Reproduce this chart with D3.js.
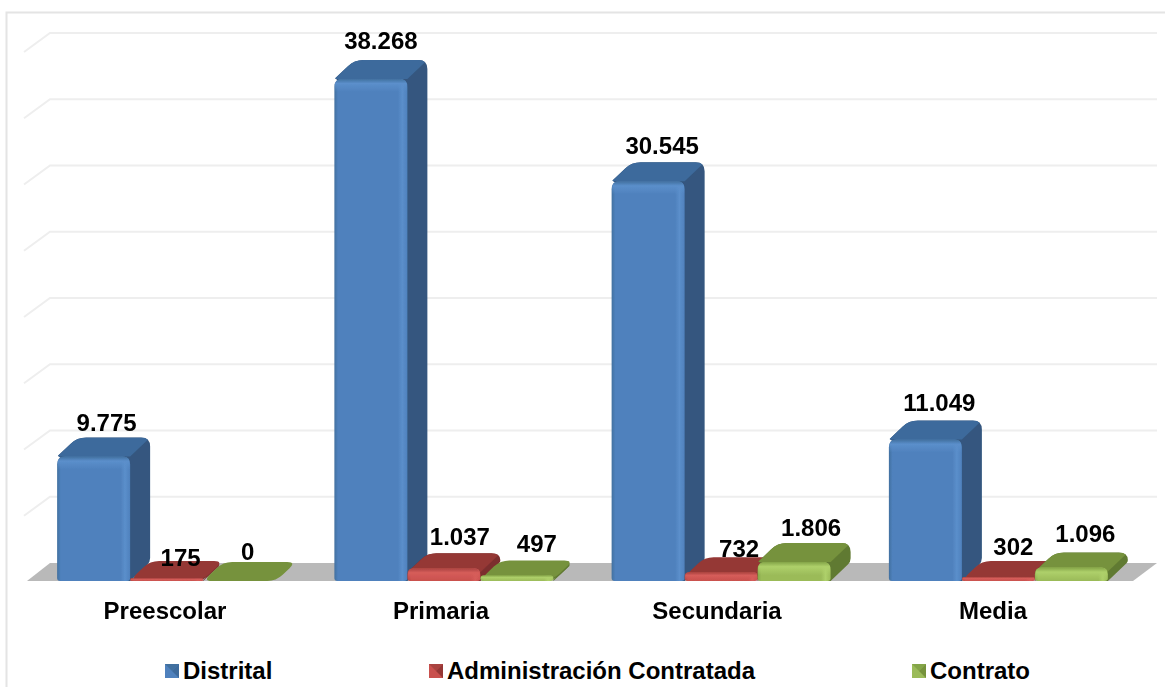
<!DOCTYPE html>
<html><head><meta charset="utf-8">
<script src="https://cdn.jsdelivr.net/npm/d3@7/dist/d3.min.js"></script>
<style>html,body{margin:0;padding:0;background:#fff;overflow:hidden}svg{display:block}text{font-family:"Liberation Sans",Arial,sans-serif;font-weight:bold;fill:#000}</style>
</head><body><svg id="c" width="1165" height="687"></svg>
<script>
const categories = ["Preescolar","Primaria","Secundaria","Media"];
const seriesNames = ["Distrital","Administración Contratada","Contrato"];
const distrital = [9775,38268,30545,11049];
const administracion = [175,1037,732,302];
const contrato = [0,497,1806,1096];
const gridTicks = [5000,10000,15000,20000,25000,30000,35000,40000];
const seriesValues = [distrital,administracion,contrato];
const fmt = v => d3.format(",")(v).replace(/,/g,".");

const palette = [
 {front:"#4f81bd",light:"#5b8fcb",dark:"#41709f",top:"#3d6a9c",side:"#34577f"},
 {front:"#c9504d",light:"#d65d5a",dark:"#a94340",top:"#953735",side:"#7c2f2d"},
 {front:"#9bbb59",light:"#aed06a",dark:"#84a548",top:"#76923c",side:"#617a32"}
];
const svg = d3.select("#c");
const frontY=581, floorBack=563, leftF=27, rightF=1133, gridEnd=1157;
const floorDx=23, barDx=20, barDy=-19, bevel=5;
const xCat = d3.scaleBand().domain(categories).range([28,1137]);
const xSer = d3.scaleBand().domain([0,1,2]).range([0,219]);
const xLabel = d3.scalePoint().domain(categories).range([165,993]);
const grid = d3.scaleLinear().domain([0,40000]).range([floorBack,33]);
const barH = v => grid(0)-grid(v);

const defs = svg.append("defs");
const blur = defs.append("filter").attr("id","soft").attr("x","-5%").attr("y","-5%").attr("width","110%").attr("height","110%");
blur.append("feGaussianBlur").attr("stdDeviation",0.5);
palette.forEach((p,i)=>{
  const g=defs.append("linearGradient").attr("id","h"+i);
  [[0,p.dark],[0.05,p.front],[0.87,p.front],[0.93,p.light],[1,p.front]].forEach(s=>g.append("stop").attr("offset",s[0]).attr("stop-color",s[1]));
  const v=defs.append("linearGradient").attr("id","v"+i).attr("x1",0).attr("x2",0).attr("y1",0).attr("y2",1);
  [[0,p.dark,1],[0.35,p.light,1],[1,p.light,0]].forEach(s=>v.append("stop").attr("offset",s[0]).attr("stop-color",s[1]).attr("stop-opacity",s[2]));
});

svg.append("path").attr("d",`M6.5,687V12.5H1165`).attr("fill","none").attr("stroke","#e4e4e4").attr("stroke-width",2);

svg.append("g").attr("fill","none").attr("stroke","#eeeeee").attr("stroke-width",2)
  .selectAll("path").data(gridTicks).join("path")
  .attr("d",t=>`M${leftF-3},${grid(t)+19}L${leftF+floorDx},${grid(t)}H${gridEnd}`);

svg.append("path").attr("fill","#b9b9b9")
  .attr("d",`M${leftF},${frontY}L${leftF+floorDx},${floorBack}H${rightF+floorDx+1}L${rightF},${frontY}Z`);

function roundedPoly(pts,r){
  let d="";
  pts.forEach((p,i)=>{
    const a=pts[(i+pts.length-1)%pts.length], b=pts[(i+1)%pts.length];
    const to=(q,s)=>{const dx=q[0]-p[0],dy=q[1]-p[1],l=Math.hypot(dx,dy)||1,m=Math.min(s,l/2);return [p[0]+dx/l*m,p[1]+dy/l*m];};
    const s=to(a,r), e=to(b,r);
    d+=(i?"L":"M")+s[0]+","+s[1]+"Q"+p[0]+","+p[1]+" "+e[0]+","+e[1];
  });
  return d+"Z";
}
function frontPath(x,y,w,h,rt,rb){
  rt=Math.min(rt,h/2); rb=Math.min(rb,h/2);
  return `M${x},${y+rt}Q${x},${y} ${x+rt},${y}H${x+w-rt}Q${x+w},${y} ${x+w},${y+rt}V${y+h-rb}Q${x+w},${y+h} ${x+w-rb},${y+h}H${x+rb}Q${x},${y+h} ${x},${y+h-rb}Z`;
}

const marks = svg.append("g").attr("filter","url(#soft)");
let clipId=0;
categories.forEach((c,ci)=>{
  seriesValues.forEach((vals,si)=>{
    const v=vals[ci], p=palette[si];
    const x0=xCat(c)+xSer(si)+(xCat.bandwidth()-219)/2, w=xSer.bandwidth();
    const h=Math.max(v===0?0:1,barH(v)-bevel);
    const yT=frontY-h, g=marks.append("g");
    const topPts=[[x0,yT],[x0+barDx,yT+barDy],[x0+w+barDx,yT+barDy],[x0+w,yT]];
    const r=9;
    if(h>=8){
      const bx=x0+barDx, by=yT+barDy, cx=x0+w+barDx, ex=x0+w;
      const a=Math.min(r,h*0.8), b=Math.min(4,h*0.2), len=Math.hypot(barDx,barDy);
      const ux=barDx/len, uy=barDy/len;
      const sil=`M${x0+ux},${yT+uy}L${bx-ux*r},${by-uy*r}Q${bx},${by} ${bx+r},${by}H${cx-r}Q${cx},${by} ${cx},${by+a}V${frontY+barDy-b}Q${cx},${frontY+barDy} ${cx-ux*b},${frontY+barDy-uy*b}L${ex},${frontY}H${x0+4}V${yT+2}Z`;
      const id="sil"+(clipId++);
      defs.append("clipPath").attr("id",id).append("path").attr("d",sil);
      g.append("path").attr("d",sil).attr("fill",p.side);
      g.append("path").attr("clip-path",`url(#${id})`).attr("fill",p.top)
        .attr("d",`M${topPts.map(q=>q.join(",")).join("L")}Z`);
    } else {
      if(h>0) g.append("path").attr("fill",p.side).attr("transform",`translate(0,${h})`).attr("d",roundedPoly(topPts,r));
      if(h>0) g.append("path").attr("fill",p.side).attr("d",`M${x0+w},${yT}L${x0+w+barDx-4},${yT+barDy+4}V${frontY+barDy+4}L${x0+w},${frontY}Z`);
      g.append("path").attr("fill",p.top).attr("d",roundedPoly(topPts,r));
    }
    if(h>0){
      const lift = h<15 ? Math.min(4,v/100) : 0;
      const fh=h+lift;
      g.append("path").attr("d",frontPath(x0,frontY-fh,w,fh,8,3)).attr("fill",`url(#h${si})`);
      const bh=Math.min(13,fh);
      g.append("path").attr("d",frontPath(x0+0.5,frontY-fh,w-1,bh,7,0)).attr("fill",`url(#v${si})`);
    }
  });
});

// per-label placement: [horizontal shift, gap above the bar's back edge]
const labelPlace = {9775:[13,6],38268:[10,11],30545:[14,8],11049:[14,10],
  175:[14,-5],1037:[16,8],732:[18,0],302:[15,6],0:[8,2],497:[20,8],1806:[17,7],1096:[14,10]};
const labels = svg.append("g").attr("text-anchor","middle").attr("font-size",24);
categories.forEach((c,ci)=>{
  seriesValues.forEach((vals,si)=>{
    const v=vals[ci];
    const x0=xCat(c)+xSer(si)+(xCat.bandwidth()-219)/2;
    const h=Math.max(v===0?0:1,barH(v)-bevel);
    const [sx,gap]=labelPlace[v];
    labels.append("text").attr("x",x0+xSer.bandwidth()/2+sx).attr("y",frontY-h+barDy-gap).text(fmt(v));
  });
});

svg.append("g").attr("text-anchor","middle").attr("font-size",24)
  .selectAll("text").data(categories).join("text")
  .attr("x",c=>xLabel(c)).attr("y",619).text(c=>c);

const legendX = d3.scaleOrdinal().domain(seriesNames).range([165,429,912]);
const lg = svg.append("g").selectAll("g").data(seriesNames).join("g")
  .attr("transform",d=>`translate(${legendX(d)},664)`);
lg.each(function(d,i){
  const g=d3.select(this),p=palette[i],s=14;
  g.append("rect").attr("width",s).attr("height",s).attr("fill",p.front);
  g.append("path").attr("d",`M0,0H${s}L${s/2},${s/2}Z`).attr("fill",p.dark);
  g.append("path").attr("d",`M${s},0V${s}L${s/2},${s/2}Z`).attr("fill",p.top);
  g.append("text").attr("x",s+4).attr("y",15).attr("font-size",24).text(d);
});
</script></body></html>
